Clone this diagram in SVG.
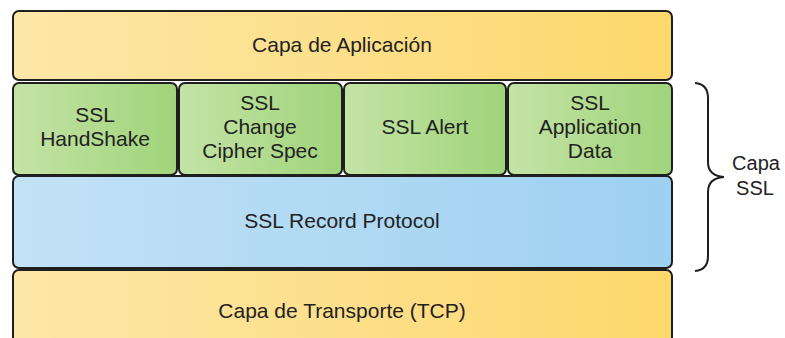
<svg xmlns="http://www.w3.org/2000/svg" width="785" height="338" viewBox="0 0 785 338">
<style>
.box{stroke:#1e1e1e;stroke-width:2}
text{font-family:"Liberation Sans",Arial,sans-serif;font-size:21px;fill:#222;text-anchor:middle}
.side{font-size:20px}
</style>
<defs>
<linearGradient id="gy" x1="0" y1="0" x2="1" y2="0"><stop offset="0" stop-color="#fde7a9"/><stop offset="1" stop-color="#fdd86c"/></linearGradient>
<linearGradient id="gg" x1="0" y1="0" x2="1" y2="0"><stop offset="0" stop-color="#c4e3a6"/><stop offset="1" stop-color="#a0d47a"/></linearGradient>
<linearGradient id="gb" x1="0" y1="0" x2="1" y2="0"><stop offset="0" stop-color="#c3e2f6"/><stop offset="1" stop-color="#9dd0f1"/></linearGradient>
</defs>
<rect width="785" height="338" fill="#ffffff"/>
<g id="aplicacion"><rect class="box" x="13" y="11" width="659" height="69" rx="6" fill="url(#gy)"/><text x="342" y="52">Capa de Aplicación</text></g>
<g id="handshake"><rect class="box" x="13" y="83" width="164" height="92" rx="6" fill="url(#gg)"/><text x="95" y="122">SSL</text><text x="95" y="146">HandShake</text></g>
<g id="ccs"><rect class="box" x="179" y="83" width="163" height="92" rx="6" fill="url(#gg)"/><text x="260" y="110">SSL</text><text x="260" y="134">Change</text><text x="260" y="158">Cipher Spec</text></g>
<g id="alert"><rect class="box" x="344" y="83" width="162" height="92" rx="6" fill="url(#gg)"/><text x="425" y="134">SSL Alert</text></g>
<g id="appdata"><rect class="box" x="508" y="83" width="164" height="92" rx="6" fill="url(#gg)"/><text x="590" y="110">SSL</text><text x="590" y="134">Application</text><text x="590" y="158">Data</text></g>
<g id="record"><rect class="box" x="13" y="176" width="659" height="92" rx="6" fill="url(#gb)"/><text x="342" y="228">SSL Record Protocol</text></g>
<g id="transporte"><rect class="box" x="13" y="270" width="659" height="76" rx="6" fill="url(#gy)"/><text x="342" y="318">Capa de Transporte (TCP)</text></g>
<g id="connectors"><path d="M695,83 Q708,84 708,98 L708,162 Q708,176 724,177 Q708,178 708,192 L708,256 Q708,270 695,271" fill="none" stroke="#1e1e1e" stroke-width="2"/></g>
<g id="capassl"><text class="side" x="756" y="170">Capa</text><text class="side" x="755" y="195">SSL</text></g>
</svg>
